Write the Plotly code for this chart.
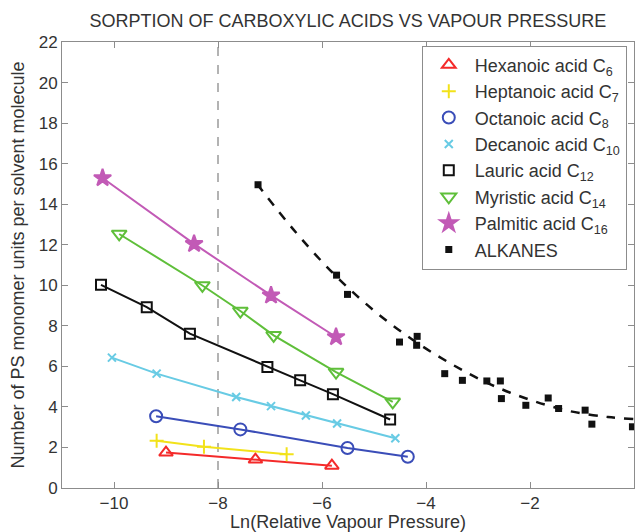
import plotly.graph_objects as go

# ---- data ----
hex_x = [-9.00, -7.28, -5.81]
hex_y = [1.75, 1.40, 1.10]

hep_x = [-9.18, -8.27, -6.68]
hep_y = [2.33, 2.03, 1.67]

oct_x = [-9.19, -7.57, -5.51, -4.35]
oct_y = [3.54, 2.89, 1.97, 1.54]

dec_x = [-10.04, -9.18, -7.65, -6.98, -6.31, -5.71, -4.59]
dec_y = [6.43, 5.64, 4.49, 4.04, 3.58, 3.18, 2.45]

lau_x = [-10.25, -9.37, -8.54, -7.05, -6.42, -5.79, -4.69]
lau_y = [10.02, 8.92, 7.61, 5.97, 5.31, 4.63, 3.38]

myr_x = [-9.90, -8.30, -7.57, -6.93, -5.73, -4.64]
myr_y = [12.53, 9.99, 8.73, 7.53, 5.72, 4.25]

pal_x = [-10.22, -8.46, -6.98, -5.73]
pal_y = [15.29, 12.04, 9.50, 7.45]

alk_x = [-7.23, -5.72, -5.51, -4.51, -4.17, -4.18, -3.64, -3.30, -2.83,
         -2.57, -2.55, -2.08, -1.65, -1.45, -0.94, -0.81, -0.03]
alk_y = [14.96, 10.50, 9.55, 7.20, 7.48, 7.04, 5.64, 5.31, 5.28,
         5.28, 4.41, 4.08, 4.44, 3.92, 3.84, 3.15, 3.02]

# dashed trend curve for alkanes
fit_x = [-7.25, -6.5, -5.75, -5.0, -4.25, -3.5, -2.75, -2.0, -1.25, -0.5, 0.0]
fit_y = [15.0, 12.6, 10.5, 8.75, 7.3, 6.1, 5.1, 4.35, 3.8, 3.5, 3.4]

ref_x = -8

x_ticks = [-10, -8, -6, -4, -2, 0]
y_ticks = [0, 2, 4, 6, 8, 10, 12, 14, 16, 18, 20, 22]

names = ["Hexanoic acid C<sub>6</sub>", "Heptanoic acid C<sub>7</sub>",
         "Octanoic acid C<sub>8</sub>", "Decanoic acid C<sub>10</sub>",
         "Lauric acid C<sub>12</sub>", "Myristic acid C<sub>14</sub>",
         "Palmitic acid C<sub>16</sub>"]

series = [
    (hex_x, hex_y, "#f42a2a", "triangle-up-open", 12),
    (hep_x, hep_y, "#f2e21a", "cross-thin-open", 10),
    (oct_x, oct_y, "#3a4db8", "circle-open", 12),
    (dec_x, dec_y, "#68cbe4", "x-thin-open", 8),
    (lau_x, lau_y, "#111111", "square-open", 10),
    (myr_x, myr_y, "#5fbf3a", "triangle-down-open", 13),
    (pal_x, pal_y, "#c25ab6", "star", 13),
]

FONT = "Liberation Sans, Arial, Helvetica, sans-serif"

fig = go.Figure()

for (xs, ys, col, sym, sz), nm in zip(series, names):
    fig.add_trace(go.Scatter(x=xs, y=ys, mode="lines",
                             line=dict(color=col, width=2),
                             showlegend=False, hoverinfo="skip"))
    fig.add_trace(go.Scatter(x=xs, y=ys, mode="markers", name=nm,
                             marker=dict(symbol=sym, size=sz, color=col,
                                         line=dict(color=col, width=2))))

fig.add_trace(go.Scatter(x=fit_x, y=fit_y, mode="lines",
                         line=dict(color="#111111", width=2.5, dash="dash",
                                   shape="spline"),
                         showlegend=False, hoverinfo="skip"))
fig.add_trace(go.Scatter(x=alk_x, y=alk_y, mode="markers", name="ALKANES",
                         marker=dict(symbol="square", size=7, color="#111111")))

fig.add_shape(type="line", xref="x", yref="paper", x0=ref_x, x1=ref_x,
              y0=0, y1=1, line=dict(color="#9a9a9a", width=1.5, dash="dash"),
              layer="below")

axis_common = dict(showline=True, linecolor="#8c8c8c", linewidth=1,
                   mirror="ticks", ticks="inside", ticklen=6,
                   tickcolor="#8c8c8c", showgrid=False, zeroline=False,
                   tickfont=dict(size=17, color="#333333", family=FONT))

fig.update_layout(
    width=635, height=532,
    margin=dict(l=62, r=1, t=42, b=44),
    paper_bgcolor="white", plot_bgcolor="white",
    font=dict(family=FONT, size=18, color="#333333"),
    title=dict(text="SORPTION OF CARBOXYLIC ACIDS VS VAPOUR PRESSURE",
               x=0.548, xanchor="center", y=0.962, yanchor="middle",
               font=dict(size=18, color="#333333", family=FONT)),
    xaxis=dict(range=[-11, 0], tickvals=x_ticks,
               title=dict(text="Ln(Relative Vapour Pressure)", standoff=3,
                          font=dict(size=18, color="#333333")),
               **axis_common),
    yaxis=dict(range=[0, 22], tickvals=y_ticks,
               title=dict(text="Number of PS monomer units per solvent molecule",
                          standoff=9, font=dict(size=18, color="#333333")),
               **axis_common),
    legend=dict(x=0.629, y=0.992, xanchor="left", yanchor="top",
                bgcolor="white", bordercolor="#8c8c8c", borderwidth=1,
                font=dict(size=18, color="#333333", family=FONT),
                itemwidth=42, tracegroupgap=0),
    showlegend=True,
)

fig.write_html("out.html")
